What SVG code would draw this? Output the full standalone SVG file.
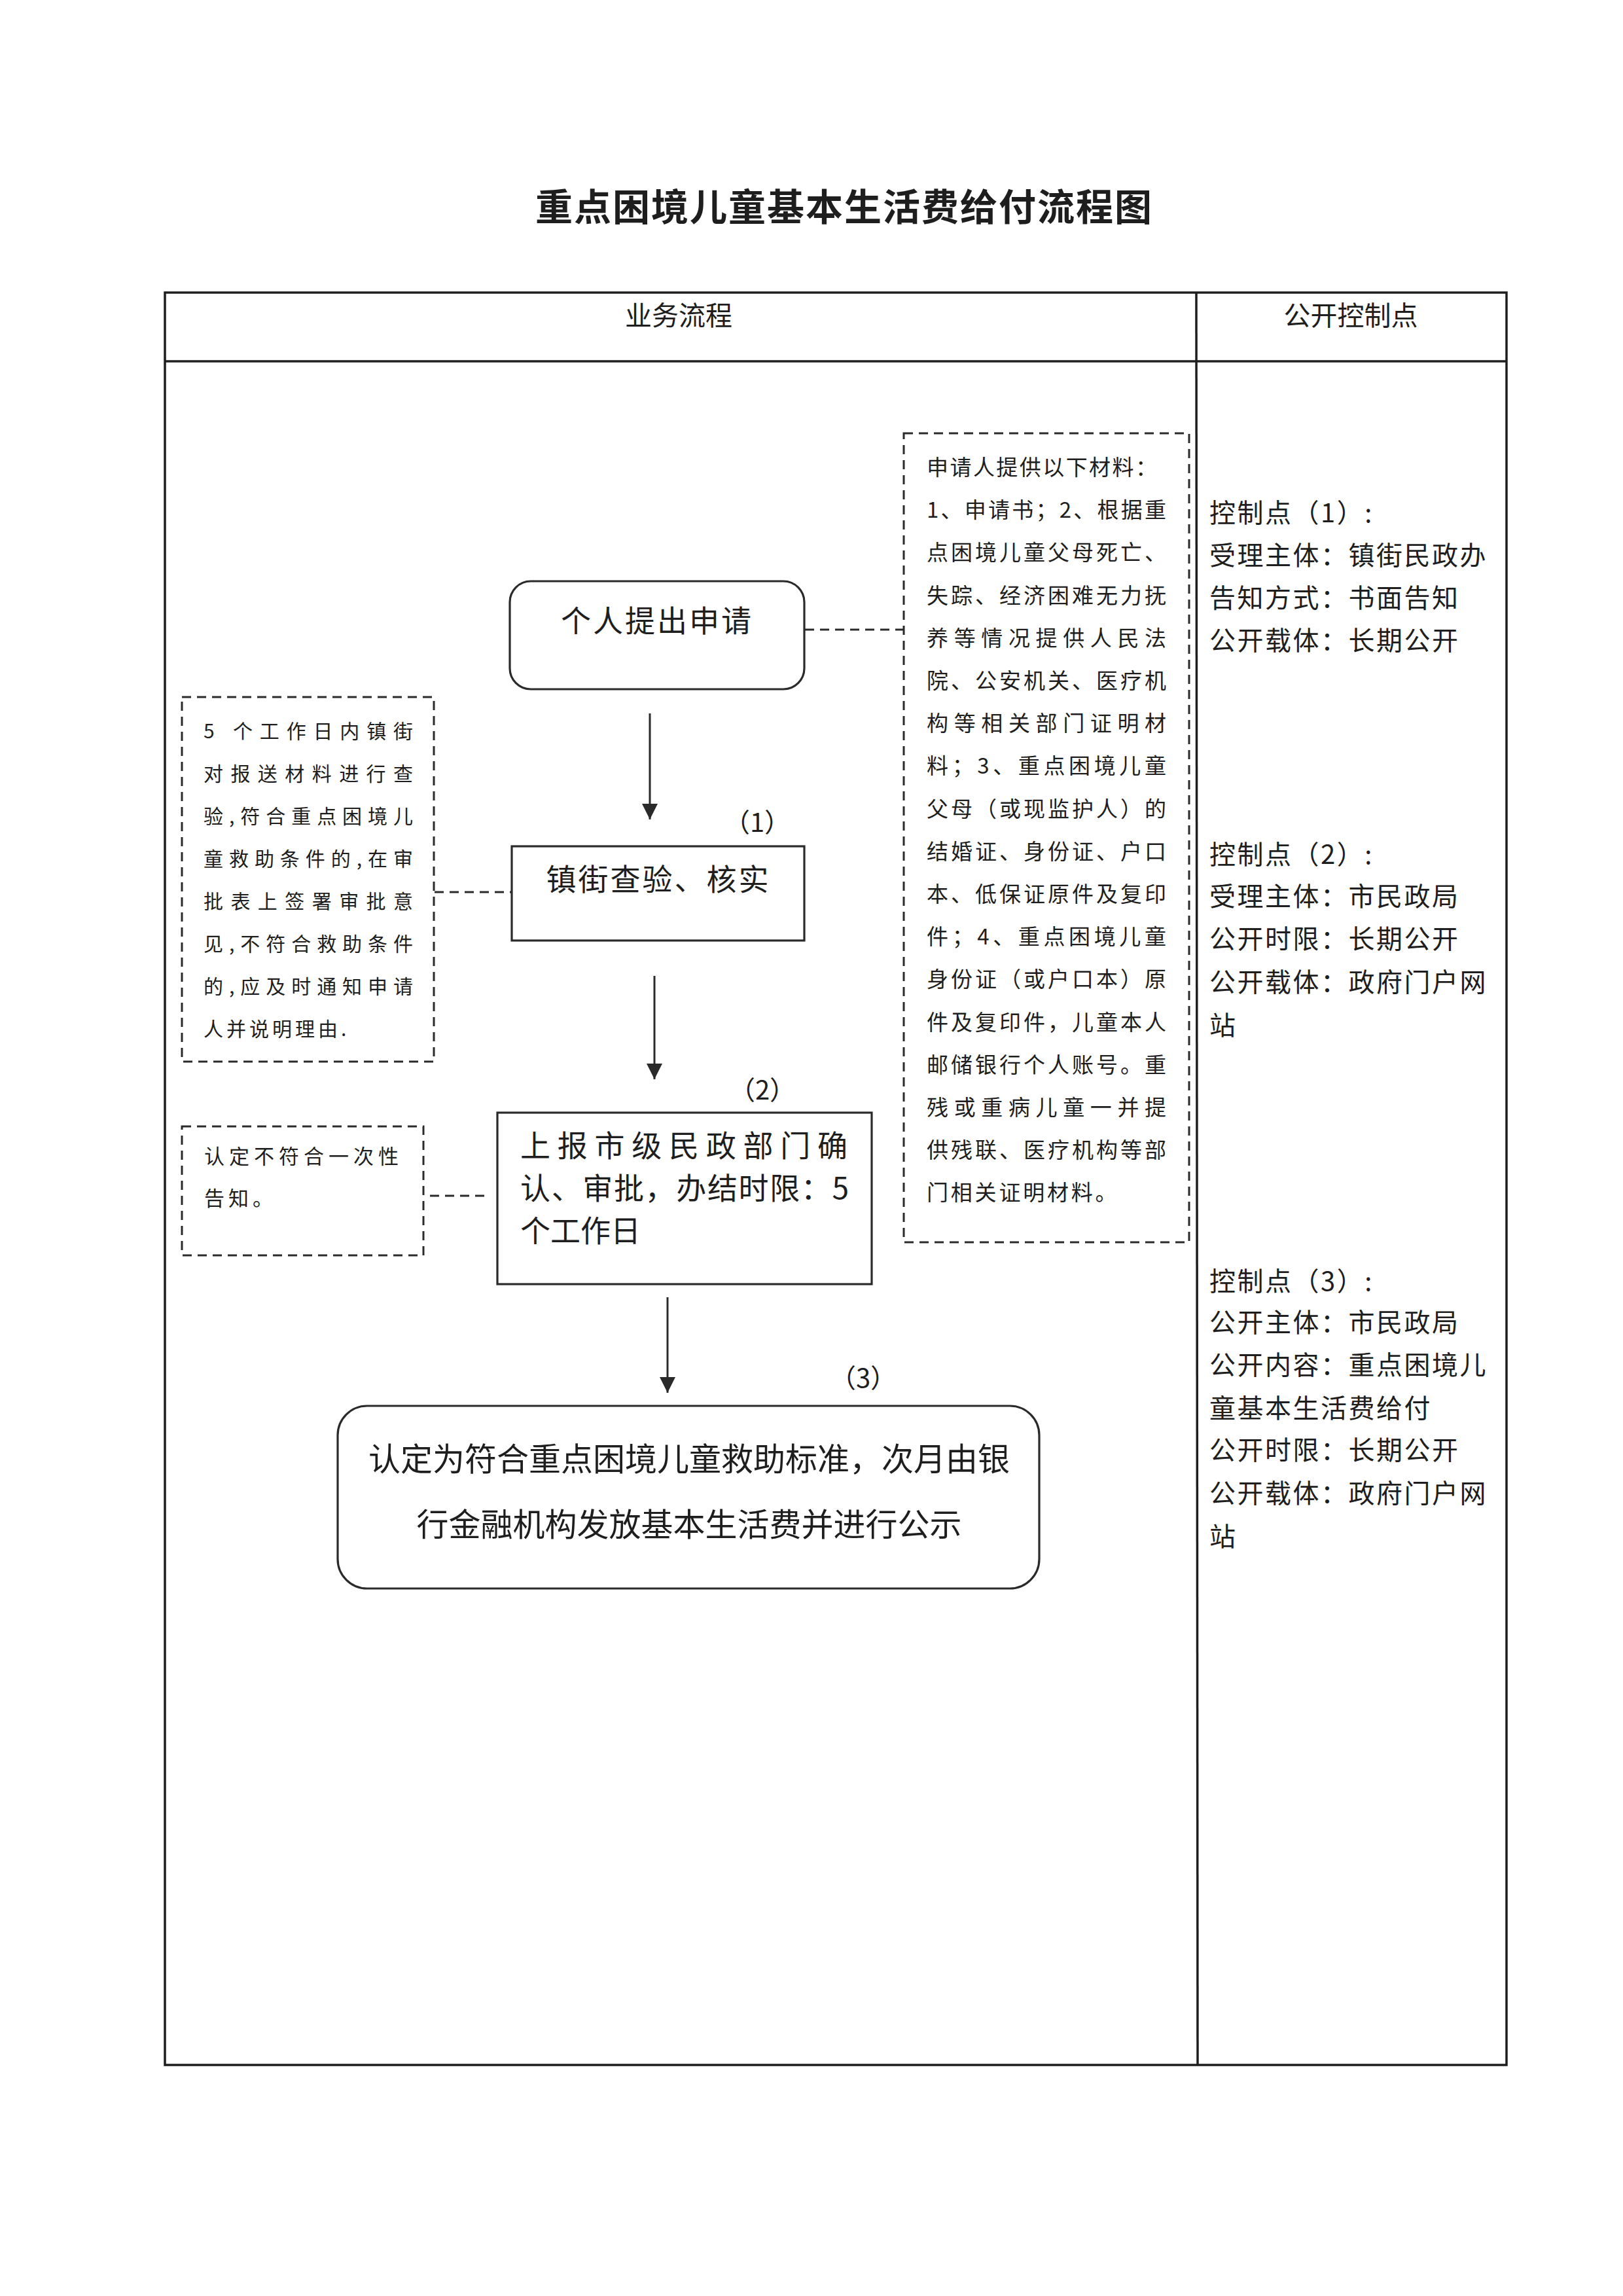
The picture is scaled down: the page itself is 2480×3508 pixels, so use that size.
<svg xmlns="http://www.w3.org/2000/svg" width="2480" height="3508" viewBox="0 0 2480 3508">
<defs>
<style>
text{font-family:"Noto Sans CJK SC","Liberation Sans",sans-serif;fill:#1e1e1e}
.title{font-size:57px;font-weight:700;letter-spacing:2px}
.hdr{font-size:41px}
.node{font-size:46px;letter-spacing:3px}
.lbl{font-size:40px}
.big{font-size:49px}
.mat{font-size:33px}
.note{font-size:30px}
.cp{font-size:40px;letter-spacing:2.5px}
.tbl{stroke:#1e1e1e;stroke-width:3.5;fill:none}
.box{stroke:#2a2a2a;stroke-width:3.2;fill:none}
.dbox{stroke:#2a2a2a;stroke-width:3;fill:none;stroke-dasharray:14 9}
.dline{stroke:#2a2a2a;stroke-width:3;fill:none;stroke-dasharray:14 9}
.arr{stroke:#2a2a2a;stroke-width:3;fill:none;marker-end:url(#ah)}
</style>
<marker id="ah" viewBox="0 0 10 10" refX="10" refY="5" markerWidth="8" markerHeight="8" markerUnits="strokeWidth" orient="auto">
<path d="M0,0 L10,5 L0,10 Z" fill="#2a2a2a"/>
</marker>
</defs>
<rect width="2480" height="3508" fill="#ffffff"/>

<text class="title" x="1290" y="337" text-anchor="middle">重点困境儿童基本生活费给付流程图</text>

<g id="table">
<rect class="tbl" x="252" y="447" width="2050" height="2708"/>
<line class="tbl" x1="252" y1="552" x2="2302" y2="552"/>
<line class="tbl" x1="1828" y1="447" x2="1830" y2="3155"/>
<text class="hdr" x="1037" y="497" text-anchor="middle">业务流程</text>
<text class="hdr" x="2064" y="497" text-anchor="middle">公开控制点</text>
</g>

<g id="connectors">
<line class="arr" x1="993" y1="1090" x2="993" y2="1252"/>
<line class="arr" x1="1000" y1="1491" x2="1000" y2="1649"/>
<line class="arr" x1="1020" y1="1982" x2="1020" y2="2128"/>
<line class="dline" x1="1230" y1="962" x2="1381" y2="962"/>
<line class="dline" x1="664" y1="1363" x2="782" y2="1363"/>
<line class="dline" x1="657" y1="1827" x2="740" y2="1827"/>
<text class="lbl" x="1157" y="1271" text-anchor="middle">（1）</text>
<text class="lbl" x="1165" y="1680" text-anchor="middle">（2）</text>
<text class="lbl" x="1319" y="2120" text-anchor="middle">（3）</text>
</g>

<g id="n-apply">
<rect class="box" x="779" y="888" width="450" height="165" rx="32"/>
<text class="node" x="1004" y="965" text-anchor="middle">个人提出申请</text>
</g>

<g id="n-check">
<rect class="box" x="782" y="1293" width="447" height="144"/>
<text class="node" x="1006" y="1360" text-anchor="middle">镇街查验、核实</text>
</g>

<g id="n-report">
<rect class="box" x="760" y="1700" width="572" height="262"/>
<text class="node" x="795" y="1767" textLength="500" lengthAdjust="spacing" style="letter-spacing:0">上报市级民政部门确</text>
<text class="node" x="795" y="1832" textLength="502" lengthAdjust="spacing" style="letter-spacing:0">认、审批，办结时限：5</text>
<text class="node" x="795" y="1897" style="letter-spacing:0">个工作日</text>
</g>

<g id="n-final">
<rect class="box" x="516" y="2148" width="1072" height="279" rx="45"/>
<text class="big" x="1053" y="2247" text-anchor="middle">认定为符合重点困境儿童救助标准，次月由银</text>
<text class="big" x="1053" y="2347" text-anchor="middle">行金融机构发放基本生活费并进行公示</text>
</g>

<g id="n-materials">
<rect class="dbox" x="1381" y="662" width="436" height="1236"/>
<text class="mat" x="1416" y="726" textLength="352" lengthAdjust="spacing">申请人提供以下材料：</text>
<text class="mat" x="1416" y="791.2" textLength="366" lengthAdjust="spacing">1、申请书；2、根据重</text>
<text class="mat" x="1416" y="856.4" textLength="366" lengthAdjust="spacing">点困境儿童父母死亡、</text>
<text class="mat" x="1416" y="921.6" textLength="366" lengthAdjust="spacing">失踪、经济困难无力抚</text>
<text class="mat" x="1416" y="986.8" textLength="366" lengthAdjust="spacing">养等情况提供人民法</text>
<text class="mat" x="1416" y="1052" textLength="366" lengthAdjust="spacing">院、公安机关、医疗机</text>
<text class="mat" x="1416" y="1117.2" textLength="366" lengthAdjust="spacing">构等相关部门证明材</text>
<text class="mat" x="1416" y="1182.4" textLength="366" lengthAdjust="spacing">料；3、重点困境儿童</text>
<text class="mat" x="1416" y="1247.6" textLength="366" lengthAdjust="spacing">父母（或现监护人）的</text>
<text class="mat" x="1416" y="1312.8" textLength="366" lengthAdjust="spacing">结婚证、身份证、户口</text>
<text class="mat" x="1416" y="1378" textLength="366" lengthAdjust="spacing">本、低保证原件及复印</text>
<text class="mat" x="1416" y="1443.2" textLength="366" lengthAdjust="spacing">件；4、重点困境儿童</text>
<text class="mat" x="1416" y="1508.4" textLength="366" lengthAdjust="spacing">身份证（或户口本）原</text>
<text class="mat" x="1416" y="1573.6" textLength="366" lengthAdjust="spacing">件及复印件，儿童本人</text>
<text class="mat" x="1416" y="1638.8" textLength="366" lengthAdjust="spacing">邮储银行个人账号。重</text>
<text class="mat" x="1416" y="1704" textLength="366" lengthAdjust="spacing">残或重病儿童一并提</text>
<text class="mat" x="1416" y="1769.2" textLength="366" lengthAdjust="spacing">供残联、医疗机构等部</text>
<text class="mat" x="1416" y="1834.4" style="letter-spacing:3.8px">门相关证明材料。</text>
</g>

<g id="n-town-note">
<rect class="dbox" x="278" y="1065" width="385" height="557"/>
<text class="note" x="311" y="1128" textLength="320" lengthAdjust="spacing">5 个工作日内镇街</text>
<text class="note" x="311" y="1193" textLength="320" lengthAdjust="spacing">对报送材料进行查</text>
<text class="note" x="311" y="1258" textLength="320" lengthAdjust="spacing">验,符合重点困境儿</text>
<text class="note" x="311" y="1323" textLength="320" lengthAdjust="spacing">童救助条件的,在审</text>
<text class="note" x="311" y="1388" textLength="320" lengthAdjust="spacing">批表上签署审批意</text>
<text class="note" x="311" y="1453" textLength="320" lengthAdjust="spacing">见,不符合救助条件</text>
<text class="note" x="311" y="1518" textLength="320" lengthAdjust="spacing">的,应及时通知申请</text>
<text class="note" x="311" y="1583" style="letter-spacing:5px">人并说明理由.</text>
</g>

<g id="n-reject-note">
<rect class="dbox" x="278" y="1721" width="369" height="197"/>
<text class="note" x="312" y="1778" textLength="297" lengthAdjust="spacing" style="font-size:31px">认定不符合一次性</text>
<text class="note" x="312" y="1842" style="font-size:31px;letter-spacing:6px">告知。</text>
</g>

<g id="control-points">
<text class="cp" x="1848" y="798">控制点（1）:</text>
<text class="cp" x="1848" y="863">受理主体：镇街民政办</text>
<text class="cp" x="1848" y="928">告知方式：书面告知</text>
<text class="cp" x="1848" y="993">公开载体：长期公开</text>
<text class="cp" x="1848" y="1320">控制点（2）:</text>
<text class="cp" x="1848" y="1384">受理主体：市民政局</text>
<text class="cp" x="1848" y="1449">公开时限：长期公开</text>
<text class="cp" x="1848" y="1515">公开载体：政府门户网</text>
<text class="cp" x="1848" y="1581">站</text>
<text class="cp" x="1848" y="1972">控制点（3）:</text>
<text class="cp" x="1848" y="2035">公开主体：市民政局</text>
<text class="cp" x="1848" y="2100">公开内容：重点困境儿</text>
<text class="cp" x="1848" y="2166">童基本生活费给付</text>
<text class="cp" x="1848" y="2230">公开时限：长期公开</text>
<text class="cp" x="1848" y="2296">公开载体：政府门户网</text>
<text class="cp" x="1848" y="2362">站</text>
</g>
</svg>
